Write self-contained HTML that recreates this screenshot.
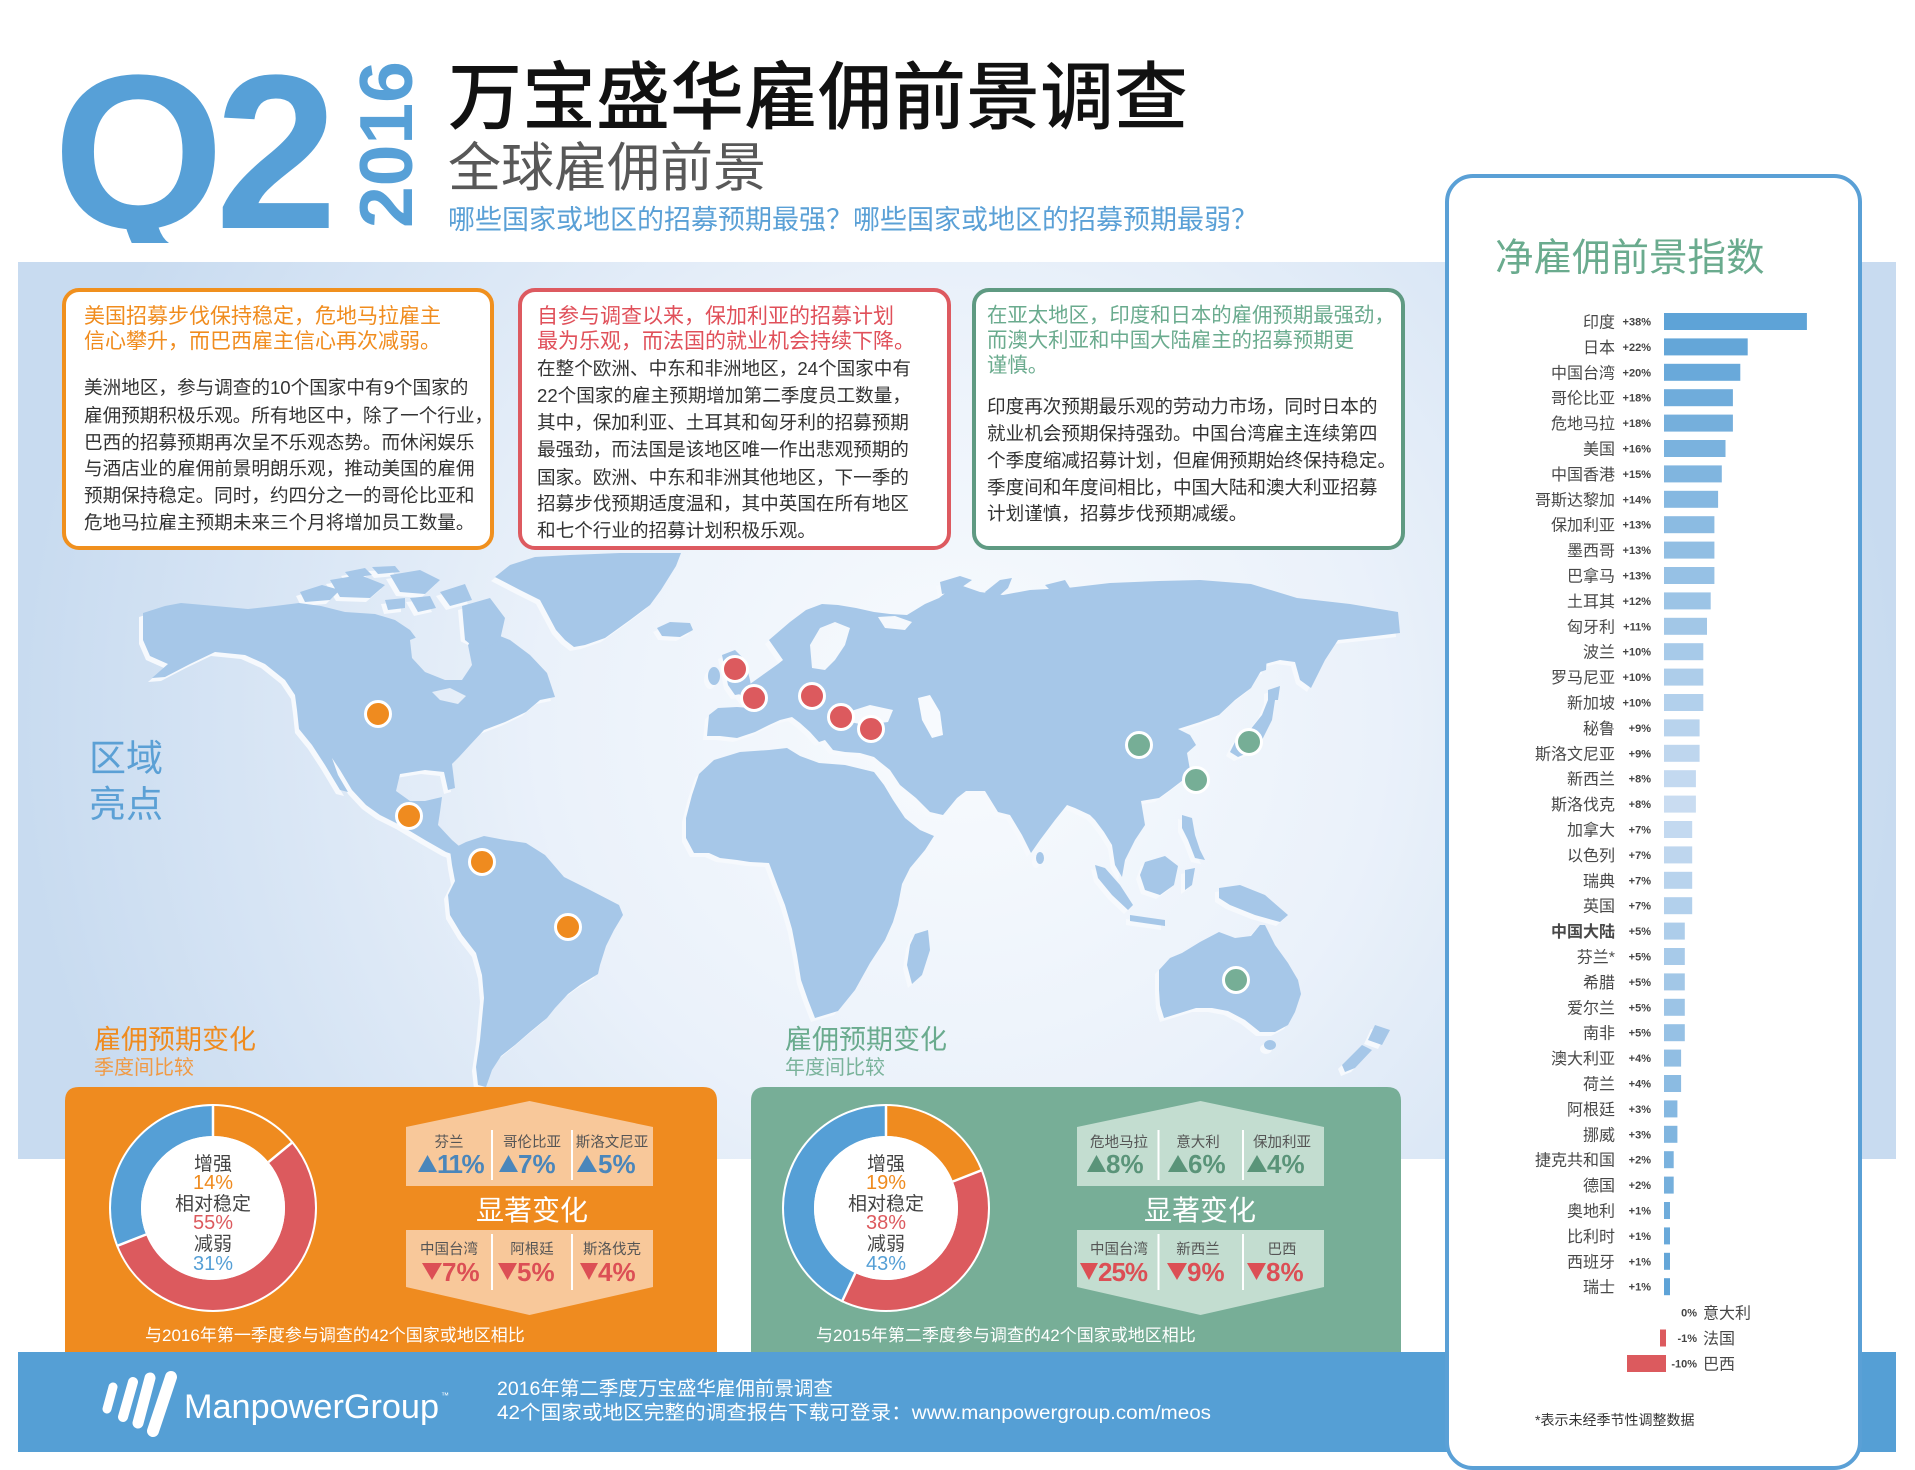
<!DOCTYPE html>
<html><head><meta charset="utf-8"><style>
html,body{margin:0;padding:0;background:#fff;}
svg{display:block;}
text{font-family:"Liberation Sans","Noto Sans CJK SC",sans-serif;}
.cn{font-size:16px;fill:#484848;text-anchor:end;}
.pc{font-size:11px;font-weight:bold;fill:#444;text-anchor:end;}
.bd{font-size:18.6px;fill:#333;}
.hn{font-size:14.5px;fill:#555;text-anchor:middle;}
.hv{font-size:26px;font-weight:bold;}
.dl{font-size:19px;fill:#444;text-anchor:middle;}
.dp{font-size:20px;text-anchor:middle;}
</style></head><body>
<svg width="1915" height="1470" viewBox="0 0 1915 1470" xmlns="http://www.w3.org/2000/svg">
<defs>
<radialGradient id="bg" gradientUnits="userSpaceOnUse" cx="960" cy="720" r="940">
<stop offset="0" stop-color="#f8fbfe"/>
<stop offset="0.45" stop-color="#eaf1fa"/>
<stop offset="1" stop-color="#c8dbf0"/>
</radialGradient>
<clipPath id="qclip"><rect x="0" y="0" width="440" height="243"/></clipPath>
<g id="land">
<path d="M143,613 L165,606 L181,603 L215,606 L248,609 L275,606 L299,603 L321,606 L345,612 L375,614 L395,620 L410,630 L425,650 L440,668 L455,672 L462,655 L470,642 L490,632 L510,640 L530,655 L547,673 L555,697 L540,700 L526,712 L505,722 L484,730 L470,745 L459,757 L452,764 L455,788 L448,790 L444,772 L425,770 L400,774 L396,791 L410,801 L425,801 L442,797 L440,812 L438,825 L452,840 L466,852 L460,857 L446,852 L425,840 L400,825 L380,815 L366,805 L352,790 L340,770 L332,758 L338,775 L348,792 L340,790 L325,765 L312,745 L299,729 L297,710 L295,695 L285,680 L265,664 L245,655 L215,652 L190,664 L165,677 L152,678 L168,664 L150,656 L143,640 Z"/>
<path d="M300,592 L322,585 L340,590 L330,600 L305,602 Z M330,580 L360,575 L385,585 L370,598 L340,597 Z M345,572 L365,568 L372,575 L350,578 Z M390,575 L420,570 L440,580 L425,594 L400,592 Z M372,567 L395,566 L400,572 L378,574 Z M440,592 L465,584 L472,600 L450,606 Z M462,606 L490,598 L505,618 L500,640 L480,652 L465,640 Z M410,598 L430,596 L436,608 L418,612 Z M385,600 L405,598 L405,608 L388,610 Z"/>
<path d="M495,577 L510,565 L535,557 L570,555 L620,553 L681,553 L676,566 L661,590 L650,605 L630,620 L605,638 L585,645 L574,647 L565,640 L556,630 L548,615 L540,600 L520,590 Z"/>
<path d="M657,628 L670,622 L690,623 L693,630 L680,637 L662,636 Z"/>
<path d="M450,850 L466,842 L484,836 L505,840 L526,843 L545,855 L564,877 L590,890 L619,905 L623,915 L614,930 L606,946 L600,965 L598,974 L580,985 L568,994 L555,1008 L547,1018 L530,1032 L515,1045 L501,1056 L492,1070 L486,1087 L478,1085 L476,1067 L480,1040 L484,998 L482,975 L476,953 L462,935 L450,915 L448,895 L455,881 L452,865 Z"/>
<path d="M709,715 L718,708 L737,707 L750,708 L737,691 L750,684 L764,674 L778,664 L783,660 L769,640 L790,622 L806,610 L822,604 L838,605 L856,608 L874,612 L890,614 L907,615 L925,604 L939,598 L957,584 L980,592 L1003,595 L1030,590 L1067,588 L1110,583 L1159,581 L1200,580 L1251,584 L1297,598 L1350,604 L1398,612 L1400,633 L1375,636 L1338,640 L1325,660 L1311,688 L1300,680 L1295,662 L1280,660 L1265,664 L1251,688 L1235,700 L1219,715 L1200,722 L1178,729 L1190,735 L1196,745 L1187,753 L1190,770 L1187,777 L1170,790 L1159,798 L1141,801 L1145,825 L1135,840 L1132,846 L1125,860 L1122,877 L1115,865 L1112,845 L1104,832 L1095,820 L1090,815 L1075,808 L1067,805 L1055,820 L1040,840 L1031,853 L1022,835 L1010,815 L998,812 L985,791 L966,791 L957,798 L943,815 L930,812 L916,798 L900,785 L890,770 L880,762 L874,757 L860,753 L845,752 L833,750 L825,740 L819,742 L810,732 L800,723 L792,717 L780,720 L769,725 L755,732 L737,738 L720,736 L707,736 Z"/>
<path d="M714,760 L740,752 L769,750 L787,748 L800,756 L819,763 L845,765 L874,772 L884,785 L893,800 L905,818 L920,830 L934,836 L925,850 L910,868 L902,884 L898,905 L893,922 L885,940 L870,963 L855,990 L838,1011 L815,1018 L808,1000 L801,980 L797,955 L792,929 L785,905 L778,887 L769,863 L750,862 L737,860 L720,858 L709,853 L694,853 L686,838 L686,818 L692,795 L699,774 Z"/>
<path d="M915,934 L928,930 L930,950 L922,975 L912,984 L907,965 L910,945 Z"/>
<path d="M1159,970 L1170,958 L1182,953 L1200,942 L1219,932 L1235,938 L1251,936 L1260,925 L1265,925 L1275,945 L1288,963 L1298,980 L1301,994 L1295,1012 L1288,1025 L1275,1032 L1260,1032 L1245,1020 L1228,1011 L1212,1008 L1196,1008 L1180,1013 L1164,1018 L1160,1005 L1159,990 Z"/>
<ellipse cx="1270" cy="1045" rx="6" ry="5"/>
<path d="M1375,1025 L1390,1030 L1382,1045 L1368,1040 Z M1362,1045 L1372,1050 L1355,1068 L1345,1072 L1342,1065 Z"/>
<path d="M1236,740 L1250,730 L1262,715 L1268,700 L1275,700 L1272,720 L1262,740 L1250,752 L1238,757 L1230,752 Z M1268,690 L1280,686 L1278,700 L1268,700 Z M1262,640 L1268,640 L1266,670 L1260,672 Z"/>
<path d="M1095,865 L1105,868 L1120,885 L1133,905 L1128,910 L1112,895 L1098,878 Z M1130,915 L1165,920 L1165,926 L1130,921 Z M1145,862 L1165,856 L1178,866 L1174,885 L1160,895 L1145,890 L1140,875 Z M1185,870 L1195,868 L1192,885 L1185,890 Z M1219,888 L1240,885 L1265,895 L1288,915 L1280,922 L1255,915 L1230,905 L1219,898 Z M1182,815 L1192,818 L1195,835 L1200,850 L1205,860 L1195,858 L1188,840 L1182,828 Z"/>
<ellipse cx="1040" cy="858" rx="4" ry="6"/>
<path d="M722,655 L735,650 L745,660 L750,680 L752,692 L735,695 L728,685 L725,670 Z"/>
<ellipse cx="714" cy="676" rx="6" ry="9"/>
<path d="M940,582 L960,576 L972,580 L955,592 L942,594 Z M985,592 L1000,580 L1012,578 L1008,588 L992,602 Z M1045,585 L1065,580 L1070,588 L1050,590 Z"/>
</g>
</defs>

<rect width="1915" height="1470" fill="#fff"/>
<rect x="18" y="262" width="1878" height="897" fill="url(#bg)"/>

<!-- map -->
<use href="#land" fill="#f6f9fd" transform="translate(-4,4)"/>
<use href="#land" fill="#a6c7e8"/>
<g fill="url(#bg)">
<path d="M410,640 L430,632 L450,636 L468,645 L472,665 L462,680 L445,680 L425,672 L412,658 Z"/>
<path d="M812,668 L810,645 L820,628 L835,622 L850,628 L845,645 L835,660 L825,670 Z"/>
<path d="M878,617 L895,616 L912,622 L905,630 L885,628 Z"/>
<path d="M918,698 L930,695 L940,712 L943,735 L932,738 L922,720 Z"/>
<path d="M848,712 L870,705 L893,710 L888,722 L865,725 L850,722 Z"/>
<path d="M432,692 L450,688 L466,696 L458,704 L440,700 Z"/>
</g>

<!-- text boxes -->
<rect x="64" y="290" width="428" height="258" rx="15" fill="#fff" stroke="#f0901e" stroke-width="4"/>
<rect x="520" y="290" width="429" height="258" rx="15" fill="#fff" stroke="#dd5a60" stroke-width="4"/>
<rect x="974" y="290" width="429" height="258" rx="15" fill="#fff" stroke="#5f9a82" stroke-width="4"/>

<g font-size="21" fill="#f08c1e">
<text x="84" y="323">美国招募步伐保持稳定，危地马拉雇主</text>
<text x="84" y="348">信心攀升，而巴西雇主信心再次减弱。</text>
</g>
<text class="bd" x="84" y="394">美洲地区，参与调查的10个国家中有9个国家的</text>
<text class="bd" x="84" y="422">雇佣预期积极乐观。所有地区中，除了一个行业，</text>
<text class="bd" x="84" y="449">巴西的招募预期再次呈不乐观态势。而休闲娱乐</text>
<text class="bd" x="84" y="475">与酒店业的雇佣前景明朗乐观，推动美国的雇佣</text>
<text class="bd" x="84" y="502">预期保持稳定。同时，约四分之一的哥伦比亚和</text>
<text class="bd" x="84" y="529">危地马拉雇主预期未来三个月将增加员工数量。</text>

<g font-size="21" fill="#e0505a">
<text x="537" y="323">自参与调查以来，保加利亚的招募计划</text>
<text x="537" y="348">最为乐观，而法国的就业机会持续下降。</text>
</g>
<text class="bd" x="537" y="375">在整个欧洲、中东和非洲地区，24个国家中有</text>
<text class="bd" x="537" y="402">22个国家的雇主预期增加第二季度员工数量，</text>
<text class="bd" x="537" y="429">其中，保加利亚、土耳其和匈牙利的招募预期</text>
<text class="bd" x="537" y="456">最强劲，而法国是该地区唯一作出悲观预期的</text>
<text class="bd" x="537" y="484">国家。欧洲、中东和非洲其他地区，下一季的</text>
<text class="bd" x="537" y="510">招募步伐预期适度温和，其中英国在所有地区</text>
<text class="bd" x="537" y="537">和七个行业的招募计划积极乐观。</text>

<g font-size="20.4" fill="#6aab8e">
<text x="987" y="322">在亚太地区，印度和日本的雇佣预期最强劲，</text>
<text x="987" y="347">而澳大利亚和中国大陆雇主的招募预期更</text>
<text x="987" y="372">谨慎。</text>
</g>
<text class="bd" x="987" y="413">印度再次预期最乐观的劳动力市场，同时日本的</text>
<text class="bd" x="987" y="440">就业机会预期保持强劲。中国台湾雇主连续第四</text>
<text class="bd" x="987" y="467">个季度缩减招募计划，但雇佣预期始终保持稳定。</text>
<text class="bd" x="987" y="494">季度间和年度间相比，中国大陆和澳大利亚招募</text>
<text class="bd" x="987" y="520">计划谨慎，招募步伐预期减缓。</text>

<!-- dots -->
<g stroke="#fff" stroke-width="3">
<g fill="#ef8b1f">
<circle cx="378" cy="714" r="12.5"/><circle cx="409" cy="816" r="12.5"/><circle cx="482" cy="862" r="12.5"/><circle cx="568" cy="927" r="12.5"/>
</g>
<g fill="#dc5a5e">
<circle cx="735" cy="669" r="12.5"/><circle cx="754" cy="698" r="12.5"/><circle cx="812" cy="696" r="12.5"/><circle cx="841" cy="717" r="12.5"/><circle cx="871" cy="729" r="12.5"/>
</g>
<g fill="#76ae96">
<circle cx="1139" cy="745" r="12.5"/><circle cx="1196" cy="780" r="12.5"/><circle cx="1249" cy="742" r="12.5"/><circle cx="1236" cy="980" r="12.5"/>
</g>
</g>

<g font-size="37" fill="#5ba0d5">
<text x="89" y="771">区域</text>
<text x="89" y="817">亮点</text>
</g>

<text x="94" y="1049" font-size="27" fill="#ef8b1f">雇佣预期变化</text>
<text x="94" y="1074" font-size="20" fill="#f09a45">季度间比较</text>
<text x="785" y="1049" font-size="27" fill="#6aab8e">雇佣预期变化</text>
<text x="785" y="1074" font-size="20" fill="#7ab39b">年度间比较</text>

<!-- bottom boxes -->
<path d="M65,1352 L65,1101 Q65,1087 79,1087 L703,1087 Q717,1087 717,1101 L717,1352 Z" fill="#ef8b1f"/>
<path d="M751,1352 L751,1101 Q751,1087 765,1087 L1387,1087 Q1401,1087 1401,1101 L1401,1352 Z" fill="#77ae97"/>

<!-- donut left -->
<circle cx="213" cy="1208" r="104" fill="#fff"/>
<g fill="none" stroke-width="30" transform="rotate(-90 213 1208)">
<circle cx="213" cy="1208" r="87" stroke="#ef8b1f" stroke-dasharray="76.53 546.64" stroke-dashoffset="0"/>
<circle cx="213" cy="1208" r="87" stroke="#dc5a5e" stroke-dasharray="300.65 546.64" stroke-dashoffset="-76.53"/>
<circle cx="213" cy="1208" r="87" stroke="#559fd6" stroke-dasharray="169.46 546.64" stroke-dashoffset="-377.18"/>
</g>
<g stroke="#fff" stroke-width="2.5">
<line x1="213" y1="1136" x2="213" y2="1104"/>
<line x1="268.5" y1="1162.1" x2="293.1" y2="1141.7"/>
<line x1="146.1" y1="1234.5" x2="116.4" y2="1246.2"/>
</g>
<circle cx="213" cy="1208" r="72" fill="#fff"/>
<text class="dl" x="213" y="1170">增强</text>
<text class="dp" x="213" y="1189" fill="#ef8b1f">14%</text>
<text class="dl" x="213" y="1210">相对稳定</text>
<text class="dp" x="213" y="1229" fill="#dc5a5e">55%</text>
<text class="dl" x="213" y="1250">减弱</text>
<text class="dp" x="213" y="1270" fill="#559fd6">31%</text>

<!-- donut right -->
<circle cx="886" cy="1208" r="104" fill="#fff"/>
<g fill="none" stroke-width="30" transform="rotate(-90 886 1208)">
<circle cx="886" cy="1208" r="87" stroke="#ef8b1f" stroke-dasharray="103.86 546.64" stroke-dashoffset="0"/>
<circle cx="886" cy="1208" r="87" stroke="#dc5a5e" stroke-dasharray="207.72 546.64" stroke-dashoffset="-103.86"/>
<circle cx="886" cy="1208" r="87" stroke="#559fd6" stroke-dasharray="235.06 546.64" stroke-dashoffset="-311.58"/>
</g>
<g stroke="#fff" stroke-width="2.5">
<line x1="886" y1="1136" x2="886" y2="1104"/>
<line x1="952.9" y1="1181.5" x2="982.7" y2="1169.8"/>
<line x1="855.3" y1="1273.1" x2="841.7" y2="1302.1"/>
</g>
<circle cx="886" cy="1208" r="72" fill="#fff"/>
<text class="dl" x="886" y="1170">增强</text>
<text class="dp" x="886" y="1189" fill="#ef8b1f">19%</text>
<text class="dl" x="886" y="1210">相对稳定</text>
<text class="dp" x="886" y="1229" fill="#dc5a5e">38%</text>
<text class="dl" x="886" y="1250">减弱</text>
<text class="dp" x="886" y="1270" fill="#559fd6">43%</text>

<!-- hex panels left -->
<polygon points="406,1127 529.5,1101 653,1127 653,1186 406,1186" fill="#f8c89a"/>
<polygon points="406,1230 653,1230 653,1287 529.5,1315 406,1287" fill="#f8c89a"/>
<g stroke="#fff" stroke-width="2">
<line x1="492" y1="1130" x2="492" y2="1180"/><line x1="572" y1="1130" x2="572" y2="1180"/>
<line x1="492" y1="1234" x2="492" y2="1290"/><line x1="572" y1="1234" x2="572" y2="1290"/>
</g>
<text class="hn" x="449" y="1147">芬兰</text>
<text class="hn" x="532" y="1147">哥伦比亚</text>
<text class="hn" x="612" y="1147">斯洛文尼亚</text>
<g fill="#4a86bb">
<polygon points="418,1172 437,1172 427.5,1155"/>
<polygon points="499,1172 518,1172 508.5,1155"/>
<polygon points="577,1172 597,1172 587,1155"/>
<text class="hv" x="437" y="1173" letter-spacing="-1.5">11%</text>
<text class="hv" x="518" y="1173">7%</text>
<text class="hv" x="598" y="1173">5%</text>
</g>
<text x="532" y="1220" font-size="28" fill="#fff" text-anchor="middle">显著变化</text>
<text class="hn" x="449" y="1254">中国台湾</text>
<text class="hn" x="532" y="1254">阿根廷</text>
<text class="hn" x="612" y="1254">斯洛伐克</text>
<g fill="#dc4f55">
<polygon points="422,1263 442,1263 432,1280"/>
<polygon points="498,1263 517,1263 507.5,1280"/>
<polygon points="580,1263 598,1263 589,1280"/>
<text class="hv" x="442" y="1281">7%</text>
<text class="hv" x="517" y="1281">5%</text>
<text class="hv" x="598" y="1281">4%</text>
</g>
<text x="145" y="1341" font-size="17" fill="#fff">与2016年第一季度参与调查的42个国家或地区相比</text>

<!-- hex panels right -->
<polygon points="1077,1127 1200.5,1101 1324,1127 1324,1186 1077,1186" fill="#c3ddd0"/>
<polygon points="1077,1230 1324,1230 1324,1287 1200.5,1315 1077,1287" fill="#c3ddd0"/>
<g stroke="#fff" stroke-width="2">
<line x1="1158.5" y1="1130" x2="1158.5" y2="1180"/><line x1="1243" y1="1130" x2="1243" y2="1180"/>
<line x1="1158.5" y1="1234" x2="1158.5" y2="1290"/><line x1="1243" y1="1234" x2="1243" y2="1290"/>
</g>
<text class="hn" x="1119" y="1147">危地马拉</text>
<text class="hn" x="1198" y="1147">意大利</text>
<text class="hn" x="1282" y="1147">保加利亚</text>
<g fill="#5a9479">
<polygon points="1087,1172 1106,1172 1096.5,1155"/>
<polygon points="1168,1172 1188,1172 1178,1155"/>
<polygon points="1247,1172 1267,1172 1257,1155"/>
<text class="hv" x="1106" y="1173">8%</text>
<text class="hv" x="1188" y="1173">6%</text>
<text class="hv" x="1267" y="1173">4%</text>
</g>
<text x="1200" y="1220" font-size="28" fill="#fff" text-anchor="middle">显著变化</text>
<text class="hn" x="1119" y="1254">中国台湾</text>
<text class="hn" x="1198" y="1254">新西兰</text>
<text class="hn" x="1282" y="1254">巴西</text>
<g fill="#dc4f55">
<polygon points="1080,1263 1098,1263 1089,1280"/>
<polygon points="1167,1263 1187,1263 1177,1280"/>
<polygon points="1247,1263 1266,1263 1256.5,1280"/>
<text class="hv" x="1098" y="1281" letter-spacing="-1">25%</text>
<text class="hv" x="1187" y="1281">9%</text>
<text class="hv" x="1266" y="1281">8%</text>
</g>
<text x="816" y="1341" font-size="17" fill="#fff">与2015年第二季度参与调查的42个国家或地区相比</text>

<!-- footer -->
<rect x="18" y="1352" width="1878" height="100" fill="#559fd5"/>
<g stroke="#fff" stroke-linecap="round" fill="none">
<line x1="107" y1="1409" x2="113" y2="1387" stroke-width="9"/>
<line x1="123" y1="1417" x2="133" y2="1382" stroke-width="10"/>
<line x1="138" y1="1423" x2="150" y2="1378" stroke-width="11"/>
<line x1="153" y1="1431" x2="171" y2="1377" stroke-width="12"/>
</g>
<text x="184" y="1418" font-size="34" fill="#fff" textLength="255" lengthAdjust="spacingAndGlyphs">ManpowerGroup</text>
<text x="441" y="1398" font-size="8" fill="#fff">™</text>
<text x="497" y="1395" font-size="19.5" fill="#fff">2016年第二季度万宝盛华雇佣前景调查</text>
<text x="497" y="1419" font-size="19.5" fill="#fff" textLength="714" lengthAdjust="spacingAndGlyphs">42个国家或地区完整的调查报告下载可登录：www.manpowergroup.com/meos</text>

<!-- right panel -->
<rect x="1447" y="176" width="413" height="1292" rx="26" fill="#fff" stroke="#5aa0d6" stroke-width="4"/>
<text x="1495" y="271" font-size="38.5" fill="#6aab8e">净雇佣前景指数</text>

<g>
<g transform="translate(0,321.5)"><text class="cn" x="1615" y="6">印度</text><text class="pc" x="1651" y="4">+38%</text><rect x="1664" y="-8.5" width="142.9" height="17" fill="rgb(94,163,215)"/></g>
<g transform="translate(0,346.9)"><text class="cn" x="1615" y="6">日本</text><text class="pc" x="1651" y="4">+22%</text><rect x="1664" y="-8.5" width="83.7" height="17" fill="rgb(100,166,216)"/></g>
<g transform="translate(0,372.3)"><text class="cn" x="1615" y="6">中国台湾</text><text class="pc" x="1651" y="4">+20%</text><rect x="1664" y="-8.5" width="76.3" height="17" fill="rgb(105,169,218)"/></g>
<g transform="translate(0,397.7)"><text class="cn" x="1615" y="6">哥伦比亚</text><text class="pc" x="1651" y="4">+18%</text><rect x="1664" y="-8.5" width="68.9" height="17" fill="rgb(111,172,219)"/></g>
<g transform="translate(0,423.1)"><text class="cn" x="1615" y="6">危地马拉</text><text class="pc" x="1651" y="4">+18%</text><rect x="1664" y="-8.5" width="68.9" height="17" fill="rgb(117,175,220)"/></g>
<g transform="translate(0,448.5)"><text class="cn" x="1615" y="6">美国</text><text class="pc" x="1651" y="4">+16%</text><rect x="1664" y="-8.5" width="61.5" height="17" fill="rgb(122,178,222)"/></g>
<g transform="translate(0,473.9)"><text class="cn" x="1615" y="6">中国香港</text><text class="pc" x="1651" y="4">+15%</text><rect x="1664" y="-8.5" width="57.8" height="17" fill="rgb(128,181,223)"/></g>
<g transform="translate(0,499.3)"><text class="cn" x="1615" y="6">哥斯达黎加</text><text class="pc" x="1651" y="4">+14%</text><rect x="1664" y="-8.5" width="54.1" height="17" fill="rgb(133,184,225)"/></g>
<g transform="translate(0,524.7)"><text class="cn" x="1615" y="6">保加利亚</text><text class="pc" x="1651" y="4">+13%</text><rect x="1664" y="-8.5" width="50.4" height="17" fill="rgb(139,187,226)"/></g>
<g transform="translate(0,550.1)"><text class="cn" x="1615" y="6">墨西哥</text><text class="pc" x="1651" y="4">+13%</text><rect x="1664" y="-8.5" width="50.4" height="17" fill="rgb(145,190,227)"/></g>
<g transform="translate(0,575.5)"><text class="cn" x="1615" y="6">巴拿马</text><text class="pc" x="1651" y="4">+13%</text><rect x="1664" y="-8.5" width="50.4" height="17" fill="rgb(150,193,229)"/></g>
<g transform="translate(0,600.9)"><text class="cn" x="1615" y="6">土耳其</text><text class="pc" x="1651" y="4">+12%</text><rect x="1664" y="-8.5" width="46.7" height="17" fill="rgb(156,196,230)"/></g>
<g transform="translate(0,626.3)"><text class="cn" x="1615" y="6">匈牙利</text><text class="pc" x="1651" y="4">+11%</text><rect x="1664" y="-8.5" width="43.0" height="17" fill="rgb(162,199,231)"/></g>
<g transform="translate(0,651.7)"><text class="cn" x="1615" y="6">波兰</text><text class="pc" x="1651" y="4">+10%</text><rect x="1664" y="-8.5" width="39.3" height="17" fill="rgb(167,202,233)"/></g>
<g transform="translate(0,677.1)"><text class="cn" x="1615" y="6">罗马尼亚</text><text class="pc" x="1651" y="4">+10%</text><rect x="1664" y="-8.5" width="39.3" height="17" fill="rgb(173,205,234)"/></g>
<g transform="translate(0,702.5)"><text class="cn" x="1615" y="6">新加坡</text><text class="pc" x="1651" y="4">+10%</text><rect x="1664" y="-8.5" width="39.3" height="17" fill="rgb(178,208,236)"/></g>
<g transform="translate(0,727.9)"><text class="cn" x="1615" y="6">秘鲁</text><text class="pc" x="1651" y="4">+9%</text><rect x="1664" y="-8.5" width="35.6" height="17" fill="rgb(184,211,237)"/></g>
<g transform="translate(0,753.3)"><text class="cn" x="1615" y="6">斯洛文尼亚</text><text class="pc" x="1651" y="4">+9%</text><rect x="1664" y="-8.5" width="35.6" height="17" fill="rgb(190,214,238)"/></g>
<g transform="translate(0,778.7)"><text class="cn" x="1615" y="6">新西兰</text><text class="pc" x="1651" y="4">+8%</text><rect x="1664" y="-8.5" width="31.9" height="17" fill="rgb(195,217,240)"/></g>
<g transform="translate(0,804.1)"><text class="cn" x="1615" y="6">斯洛伐克</text><text class="pc" x="1651" y="4">+8%</text><rect x="1664" y="-8.5" width="31.9" height="17" fill="rgb(201,220,241)"/></g>
<g transform="translate(0,829.5)"><text class="cn" x="1615" y="6">加拿大</text><text class="pc" x="1651" y="4">+7%</text><rect x="1664" y="-8.5" width="28.2" height="17" fill="rgb(195,217,240)"/></g>
<g transform="translate(0,854.9)"><text class="cn" x="1615" y="6">以色列</text><text class="pc" x="1651" y="4">+7%</text><rect x="1664" y="-8.5" width="28.2" height="17" fill="rgb(190,214,238)"/></g>
<g transform="translate(0,880.3)"><text class="cn" x="1615" y="6">瑞典</text><text class="pc" x="1651" y="4">+7%</text><rect x="1664" y="-8.5" width="28.2" height="17" fill="rgb(184,211,237)"/></g>
<g transform="translate(0,905.7)"><text class="cn" x="1615" y="6">英国</text><text class="pc" x="1651" y="4">+7%</text><rect x="1664" y="-8.5" width="28.2" height="17" fill="rgb(178,208,236)"/></g>
<g transform="translate(0,931.1)"><text class="cn" x="1615" y="6" font-weight="bold">中国大陆</text><text class="pc" x="1651" y="4">+5%</text><rect x="1664" y="-8.5" width="20.8" height="17" fill="rgb(173,205,234)"/></g>
<g transform="translate(0,956.5)"><text class="cn" x="1615" y="6">芬兰*</text><text class="pc" x="1651" y="4">+5%</text><rect x="1664" y="-8.5" width="20.8" height="17" fill="rgb(167,202,233)"/></g>
<g transform="translate(0,981.9)"><text class="cn" x="1615" y="6">希腊</text><text class="pc" x="1651" y="4">+5%</text><rect x="1664" y="-8.5" width="20.8" height="17" fill="rgb(162,199,231)"/></g>
<g transform="translate(0,1007.3)"><text class="cn" x="1615" y="6">爱尔兰</text><text class="pc" x="1651" y="4">+5%</text><rect x="1664" y="-8.5" width="20.8" height="17" fill="rgb(156,196,230)"/></g>
<g transform="translate(0,1032.7)"><text class="cn" x="1615" y="6">南非</text><text class="pc" x="1651" y="4">+5%</text><rect x="1664" y="-8.5" width="20.8" height="17" fill="rgb(150,193,229)"/></g>
<g transform="translate(0,1058.1)"><text class="cn" x="1615" y="6">澳大利亚</text><text class="pc" x="1651" y="4">+4%</text><rect x="1664" y="-8.5" width="17.1" height="17" fill="rgb(145,190,227)"/></g>
<g transform="translate(0,1083.5)"><text class="cn" x="1615" y="6">荷兰</text><text class="pc" x="1651" y="4">+4%</text><rect x="1664" y="-8.5" width="17.1" height="17" fill="rgb(139,187,226)"/></g>
<g transform="translate(0,1108.9)"><text class="cn" x="1615" y="6">阿根廷</text><text class="pc" x="1651" y="4">+3%</text><rect x="1664" y="-8.5" width="13.4" height="17" fill="rgb(133,184,225)"/></g>
<g transform="translate(0,1134.3)"><text class="cn" x="1615" y="6">挪威</text><text class="pc" x="1651" y="4">+3%</text><rect x="1664" y="-8.5" width="13.4" height="17" fill="rgb(128,181,223)"/></g>
<g transform="translate(0,1159.7)"><text class="cn" x="1615" y="6">捷克共和国</text><text class="pc" x="1651" y="4">+2%</text><rect x="1664" y="-8.5" width="9.7" height="17" fill="rgb(122,178,222)"/></g>
<g transform="translate(0,1185.1)"><text class="cn" x="1615" y="6">德国</text><text class="pc" x="1651" y="4">+2%</text><rect x="1664" y="-8.5" width="9.7" height="17" fill="rgb(117,175,220)"/></g>
<g transform="translate(0,1210.5)"><text class="cn" x="1615" y="6">奥地利</text><text class="pc" x="1651" y="4">+1%</text><rect x="1664" y="-8.5" width="6" height="17" fill="rgb(111,172,219)"/></g>
<g transform="translate(0,1235.9)"><text class="cn" x="1615" y="6">比利时</text><text class="pc" x="1651" y="4">+1%</text><rect x="1664" y="-8.5" width="6" height="17" fill="rgb(105,169,218)"/></g>
<g transform="translate(0,1261.3)"><text class="cn" x="1615" y="6">西班牙</text><text class="pc" x="1651" y="4">+1%</text><rect x="1664" y="-8.5" width="6" height="17" fill="rgb(100,166,216)"/></g>
<g transform="translate(0,1286.7)"><text class="cn" x="1615" y="6">瑞士</text><text class="pc" x="1651" y="4">+1%</text><rect x="1664" y="-8.5" width="6" height="17" fill="rgb(94,163,215)"/></g>

<g transform="translate(0,1312.5)"><text class="pc" x="1697" y="4">0%</text><text x="1703" y="6" font-size="16" fill="#484848">意大利</text></g>
<g transform="translate(0,1338)"><rect x="1660" y="-8.5" width="6" height="17" fill="#dc5a5e"/><text class="pc" x="1697" y="4">-1%</text><text x="1703" y="6" font-size="16" fill="#484848">法国</text></g>
<g transform="translate(0,1363.5)"><rect x="1627" y="-8.5" width="39" height="17" fill="#dc5a5e"/><text class="pc" x="1697" y="4">-10%</text><text x="1703" y="6" font-size="16" fill="#484848">巴西</text></g>
</g>
<text x="1535" y="1425" font-size="14" fill="#333">*表示未经季节性调整数据</text>

<!-- header -->
<g clip-path="url(#qclip)">
<text x="53" y="228" font-size="220" font-weight="bold" fill="#57a0d7" letter-spacing="-9">Q2</text>
</g>
<text transform="translate(412,228) rotate(-90)" font-size="75" font-weight="bold" fill="#57a0d7">2016</text>
<text x="448" y="123" font-size="74" font-weight="500" fill="#111">万宝盛华雇佣前景调查</text>
<text x="448" y="186" font-size="53" fill="#585858">全球雇佣前景</text>
<text x="448" y="229" font-size="27" fill="#5aa0d6">哪些国家或地区的招募预期最强？哪些国家或地区的招募预期最弱？</text>
</svg>
</body></html>
